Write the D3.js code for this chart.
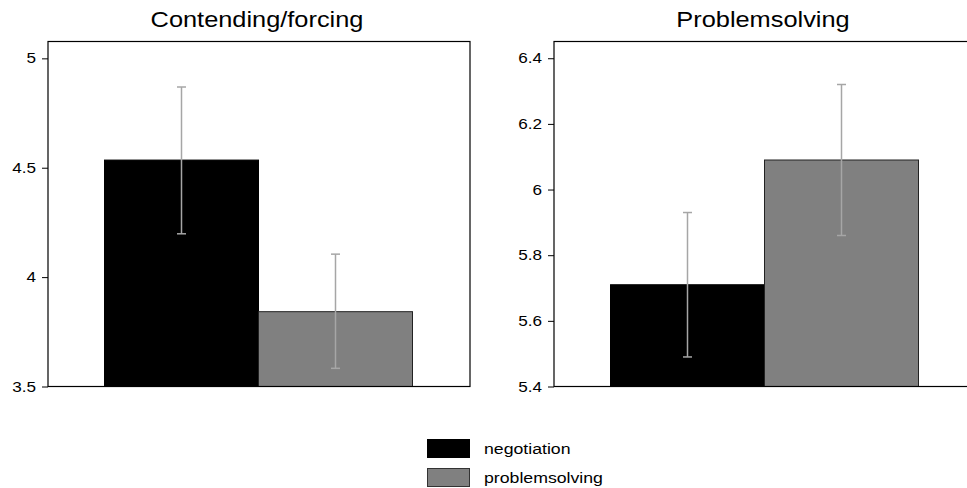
<!DOCTYPE html>
<html>
<head>
<meta charset="utf-8">
<script src="https://cdn.jsdelivr.net/npm/d3@7"></script>
<style>
  body { margin: 0; background: #fff; }
  svg { display: block; font-family: "Liberation Sans", Arial, sans-serif; }
</style>
</head>
<body>
<div id="chart"></div>
<script>
// данные
let panelTitles = ['Contending/forcing', 'Problemsolving'];
let groups = ['negotiation', 'problemsolving'];
let groupColors = ['#000000', '#808080'];
let means = [[4.535, 3.842], [5.71, 6.09]];
let lowerCI = [[4.198, 3.583], [5.49, 5.86]];
let upperCI = [[4.869, 4.105], [5.93, 6.32]];
let yDomains = [[3.5, 5.077], [5.4, 6.451]];
let yTicks = [[3.5, 4, 4.5, 5], [5.4, 5.6, 5.8, 6, 6.2, 6.4]];

let width = 967, height = 488;
let svg = d3.select('#chart').append('svg').attr('width', width).attr('height', height);

let panelLeft = [48, 554];
let panelW = 422;
let plotTop = 41.5, plotBottom = 386.5;
let stretch = 1.18; // текст в оригинале немного растянут по горизонтали

panelTitles.forEach((title, p) => {
    let g = svg.append('g').attr('transform', `translate(${panelLeft[p]},0)`);

    let x = d3.scaleBand().domain(groups).range([56.5, panelW - 57.5]).padding(0);
    let y = d3.scaleLinear().domain(yDomains[p]).range([plotBottom, plotTop]);

    // Столбики
    g.selectAll('.bar')
        .data(groups)
        .enter()
        .append('rect')
        .attr('x', d => x(d))
        .attr('y', (d, i) => y(means[p][i]))
        .attr('width', x.bandwidth())
        .attr('height', (d, i) => plotBottom - y(means[p][i]))
        .attr('fill', (d, i) => groupColors[i])
        .attr('stroke', (d, i) => i === 0 ? '#000' : '#222')
        .attr('stroke-width', 1);

    // Доверительные интервалы
    let err = g.selectAll('.err')
        .data(groups)
        .enter()
        .append('g')
        .attr('stroke', '#a6a6a6')
        .attr('stroke-width', 1.5);

    err.append('line')
        .attr('x1', d => x(d) + x.bandwidth() / 2)
        .attr('x2', d => x(d) + x.bandwidth() / 2)
        .attr('y1', (d, i) => y(lowerCI[p][i]))
        .attr('y2', (d, i) => y(upperCI[p][i]));
    [lowerCI, upperCI].forEach(ci => {
        err.append('line')
            .attr('x1', d => x(d) + x.bandwidth() / 2 - 4.5)
            .attr('x2', d => x(d) + x.bandwidth() / 2 + 4.5)
            .attr('y1', (d, i) => y(ci[p][i]))
            .attr('y2', (d, i) => y(ci[p][i]));
    });

    // Рамка
    g.append('rect')
        .attr('x', 0).attr('y', plotTop)
        .attr('width', panelW).attr('height', plotBottom - plotTop)
        .attr('fill', 'none').attr('stroke', '#000').attr('stroke-width', 1.2);

    // Ось Y
    let axis = g.append('g')
        .call(d3.axisLeft(y).tickValues(yTicks[p]).tickSize(6).tickFormat(d3.format('')));
    axis.select('.domain').remove();
    axis.selectAll('text')
        .attr('x', -12 / stretch)
        .attr('transform', `scale(${stretch},1)`)
        .style('font-size', '14.5px')
        .attr('fill', '#000');
    axis.selectAll('line').attr('stroke', '#000');

    // Заголовок
    g.append('text')
        .attr('transform', `translate(${panelW / 2 - 2},27) scale(${stretch},1)`)
        .attr('text-anchor', 'middle')
        .style('font-size', '21.5px')
        .text(title);
});

// Легенда
let legend = svg.append('g').attr('transform', 'translate(427,439)');
groups.forEach((name, i) => {
    legend.append('rect')
        .attr('x', 0.5).attr('y', i * 29 + 0.5)
        .attr('width', 42).attr('height', 18)
        .attr('fill', groupColors[i])
        .attr('stroke', i === 0 ? '#000' : '#333')
        .attr('stroke-width', 1);
    legend.append('text')
        .attr('transform', `translate(57,${i * 29 + 15}) scale(${stretch},1)`)
        .style('font-size', '15px')
        .text(name);
});
</script>
</body>
</html>
